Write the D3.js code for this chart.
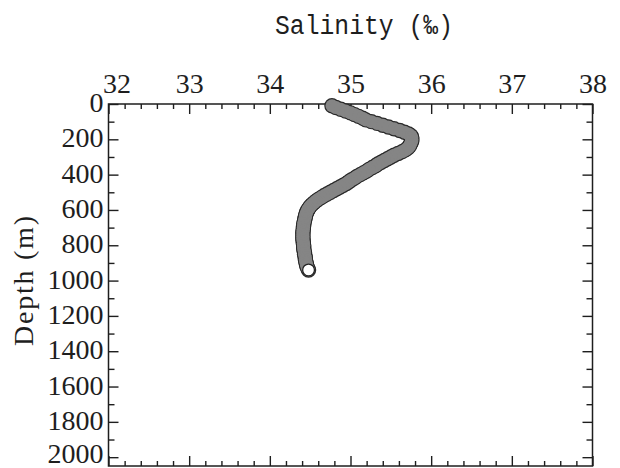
<!DOCTYPE html>
<html>
<head>
<meta charset="utf-8">
<script src="https://cdn.jsdelivr.net/npm/d3@7"></script>
<style>
  html, body { margin: 0; padding: 0; background: #fff; }
  svg { display: block; }
</style>
</head>
<body>
<svg id="chart" width="620" height="468"></svg>
<script>
// CTD cast: depth (m) and salinity (‰) sampled every 10 m
const depth = d3.range(10, 950, 10);
const salinity = [
  34.77, 34.82, 34.88, 34.94, 35.00, 35.05, 35.10, 35.15, 35.19,
  35.26, 35.33, 35.40, 35.47, 35.54, 35.61, 35.67, 35.72, 35.75, 35.76,
  35.76, 35.76, 35.75, 35.74, 35.73, 35.71, 35.68, 35.64, 35.59, 35.54,
  35.50, 35.46, 35.42, 35.38, 35.34, 35.31, 35.27, 35.23, 35.20, 35.16,
  35.12, 35.08, 35.05, 35.01, 34.98, 34.95, 34.91, 34.87, 34.83, 34.79,
  34.75, 34.71, 34.67, 34.635, 34.60, 34.57, 34.545, 34.52, 34.50, 34.485,
  34.47, 34.46, 34.45, 34.445, 34.44, 34.435, 34.43, 34.425, 34.42, 34.42,
  34.415, 34.415, 34.41, 34.41, 34.41, 34.41, 34.41, 34.41, 34.415, 34.415,
  34.42, 34.42, 34.42, 34.425, 34.43, 34.43, 34.435, 34.44, 34.44, 34.445,
  34.45, 34.455, 34.46, 34.47, 34.48
];

// Axis tick labels
const salinityTicks = [32, 33, 34, 35, 36, 37, 38];
const depthTicks = [0, 200, 400, 600, 800, 1000, 1200, 1400, 1600, 1800, 2000];

const profile = depth.map((d, i) => ({ depth: d, sal: salinity[i] }));

const svg = d3.select("#chart");
const plotL = 108.5, plotR = 592.5, plotT = 104, plotB = 466;

const x = d3.scaleLinear().domain([32, 38]).range([plotL, plotR]);
const y = d3.scaleLinear().domain([0, 2050]).range([plotT, plotB]);

const serif = "'Liberation Serif', 'Times New Roman', serif";
const ink = "#1e1e1e";

// Minor tick positions
const xMinor = d3.range(32.2, 38, 0.2).filter(v => Math.abs(v - Math.round(v)) > 0.01);
const yMinor = d3.range(100, 2050, 200);

function styleAxis(g) {
  g.select(".domain").remove();
  g.selectAll(".tick line").attr("stroke", ink).attr("stroke-width", 1.4);
  g.selectAll(".tick text")
    .attr("fill", ink)
    .style("font-family", serif)
    .style("font-size", "28px");
}

// Top axis with labels
svg.append("g")
  .attr("transform", `translate(0,${plotT})`)
  .call(d3.axisTop(x).tickValues(salinityTicks).tickSize(-10).tickPadding(11).tickFormat(d3.format("d")))
  .call(styleAxis)
  .call(g => g.selectAll(".tick text").filter(d => d === 32).attr("dx", 8));
svg.append("g")
  .attr("transform", `translate(0,${plotT})`)
  .call(d3.axisTop(x).tickValues(xMinor).tickSize(-5).tickFormat(""))
  .call(styleAxis);

// Bottom axis (ticks only)
svg.append("g")
  .attr("transform", `translate(0,${plotB})`)
  .call(d3.axisBottom(x).tickValues(salinityTicks).tickSize(-10).tickFormat(""))
  .call(styleAxis);
svg.append("g")
  .attr("transform", `translate(0,${plotB})`)
  .call(d3.axisBottom(x).tickValues(xMinor).tickSize(-5).tickFormat(""))
  .call(styleAxis);

// Left axis with labels (lowest label nudged up to stay inside the page)
svg.append("g")
  .attr("transform", `translate(${plotL},0)`)
  .call(d3.axisLeft(y).tickValues(depthTicks).tickSize(-10).tickPadding(5).tickFormat(d3.format("d")))
  .call(styleAxis)
  .call(g => g.selectAll(".tick text").attr("dy", d => d === 2000 ? "0.2em" : "0.27em"));
svg.append("g")
  .attr("transform", `translate(${plotL},0)`)
  .call(d3.axisLeft(y).tickValues(yMinor).tickSize(-6).tickFormat(""))
  .call(styleAxis);

// Right axis (ticks only)
svg.append("g")
  .attr("transform", `translate(${plotR},0)`)
  .call(d3.axisRight(y).tickValues(depthTicks).tickSize(-10).tickFormat(""))
  .call(styleAxis);
svg.append("g")
  .attr("transform", `translate(${plotR},0)`)
  .call(d3.axisRight(y).tickValues(yMinor).tickSize(-6).tickFormat(""))
  .call(styleAxis);

// Plot frame
svg.append("rect")
  .attr("x", plotL).attr("y", plotT)
  .attr("width", plotR - plotL).attr("height", plotB - plotT)
  .attr("fill", "none").attr("stroke", ink).attr("stroke-width", 1.5);

// Profile markers: outline pass, then fill pass so only the outer edge stays dark
const r = 6.5;
const marks = svg.append("g");
marks.selectAll("circle.edge")
  .data(profile).join("circle")
  .attr("class", "edge")
  .attr("cx", d => x(d.sal)).attr("cy", d => y(d.depth)).attr("r", r)
  .attr("fill", "none").attr("stroke", "#2a2a2a").attr("stroke-width", 2.4);
marks.selectAll("circle.body")
  .data(profile).join("circle")
  .attr("class", "body")
  .attr("cx", d => x(d.sal)).attr("cy", d => y(d.depth)).attr("r", r)
  .attr("fill", "#858585");

// Deepest sample drawn as an open marker
const last = profile[profile.length - 1];
marks.append("circle")
  .attr("cx", x(last.sal)).attr("cy", y(last.depth)).attr("r", r - 0.6)
  .attr("fill", "#fff").attr("stroke", "#222").attr("stroke-width", 1.3);

// Axis titles
svg.append("text")
  .attr("x", 364).attr("y", 34)
  .attr("text-anchor", "middle")
  .attr("textLength", 178).attr("lengthAdjust", "spacingAndGlyphs")
  .style("font-family", "'Liberation Mono', 'DejaVu Sans Mono', monospace")
  .style("font-size", "27px")
  .attr("fill", ink)
  .text("Salinity (‰)");

svg.append("text")
  .attr("transform", "translate(33,281) rotate(-90)")
  .attr("text-anchor", "middle")
  .attr("textLength", 130).attr("lengthAdjust", "spacing")
  .style("font-family", serif)
  .style("font-size", "28px")
  .attr("fill", ink)
  .text("Depth (m)");
</script>
</body>
</html>
